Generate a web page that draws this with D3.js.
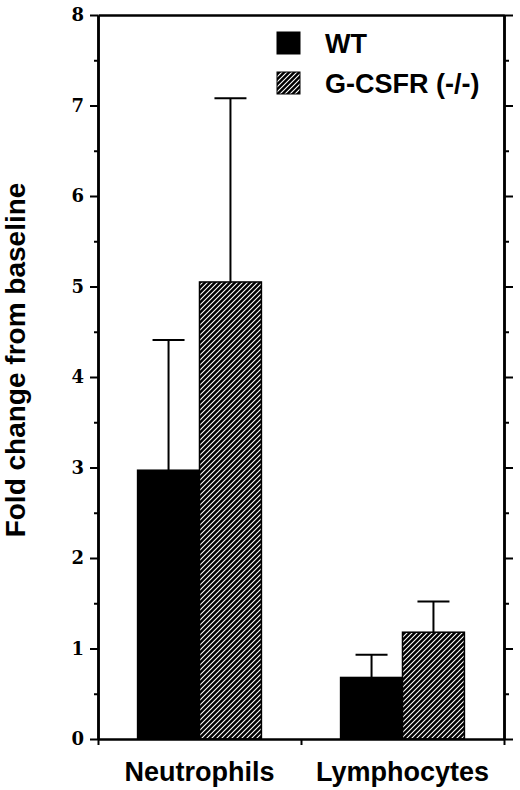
<!DOCTYPE html>
<html lang="en">
<head>
    <meta charset="UTF-8">
    <title>Fold change from baseline</title>
    <script src="https://d3js.org/d3.v7.min.js"></script>
    <style>
        body {
            margin: 0;
            background: #fff;
        }
        svg {
            display: block;
        }
        .label {
            font-family: "Liberation Sans", Arial, sans-serif;
            font-weight: bold;
            font-size: 27px;
        }
        .title {
            font-size: 28px;
        }
    </style>
</head>
<body>
    <script>
        // values
        const categories = ["Neutrophils", "Lymphocytes"];
        const series = ["WT", "G-CSFR (-/-)"];
        const wtMeans = [2.97, 0.68];
        const wtErrors = [1.44, 0.25];
        const koMeans = [5.05, 1.18];
        const koErrors = [2.03, 0.34];
        const yTicks = [0, 1, 2, 3, 4, 5, 6, 7, 8];
        const yMinorTicks = [0.5, 1.5, 2.5, 3.5, 4.5, 5.5, 6.5, 7.5];

        const width = 520;
        const height = 790;
        const plotLeft = 98, plotRight = 504, plotTop = 15, plotBottom = 739;

        let svg = d3.select("body")
            .append("svg")
            .attr("width", width)
            .attr("height", height);

        let defs = svg.append("defs");
        let hatch = defs.append("pattern")
            .attr("id", "hatch")
            .attr("patternUnits", "userSpaceOnUse")
            .attr("width", 5)
            .attr("height", 5);
        hatch.append("rect")
            .attr("width", 5)
            .attr("height", 5)
            .attr("fill", "#000");
        hatch.append("path")
            .attr("d", "M-1,1 l2,-2 M0,5 l5,-5 M4,6 l2,-2")
            .attr("stroke", "#fff")
            .attr("stroke-width", 1.1);

        const y = d3.scaleLinear()
            .domain([0, 8])
            .range([plotBottom, plotTop]);

        const x0 = d3.scaleBand()
            .domain(categories)
            .range([plotLeft, plotRight])
            .paddingInner(0.39)
            .paddingOuter(0.195);

        const x1 = d3.scaleBand()
            .domain(series)
            .range([0, x0.bandwidth()]);

        // boundaries between groups for bottom ticks
        const xEdge = d3.scaleLinear()
            .domain([0, categories.length])
            .range([plotLeft, plotRight]);

        const fills = {"WT": "#000", "G-CSFR (-/-)": "url(#hatch)"};

        const rows = [];
        categories.forEach((c, i) => {
            rows.push({cat: c, s: series[0], v: wtMeans[i], e: wtErrors[i]});
            rows.push({cat: c, s: series[1], v: koMeans[i], e: koErrors[i]});
        });

        // error bars (upper only)
        let gErr = svg.append("g")
            .attr("stroke", "#000")
            .attr("stroke-width", 2);
        gErr.selectAll("line.stem")
            .data(rows)
            .enter()
            .append("line")
            .attr("class", "stem")
            .attr("x1", d => x0(d.cat) + x1(d.s) + x1.bandwidth() / 2)
            .attr("x2", d => x0(d.cat) + x1(d.s) + x1.bandwidth() / 2)
            .attr("y1", d => y(d.v))
            .attr("y2", d => y(d.v + d.e));
        gErr.selectAll("line.cap")
            .data(rows)
            .enter()
            .append("line")
            .attr("class", "cap")
            .attr("x1", d => x0(d.cat) + x1(d.s) + x1.bandwidth() / 2 - 16)
            .attr("x2", d => x0(d.cat) + x1(d.s) + x1.bandwidth() / 2 + 16)
            .attr("y1", d => y(d.v + d.e))
            .attr("y2", d => y(d.v + d.e));

        // bars
        svg.append("g")
            .selectAll("rect")
            .data(rows)
            .enter()
            .append("rect")
            .attr("x", d => x0(d.cat) + x1(d.s))
            .attr("y", d => y(d.v))
            .attr("width", x1.bandwidth())
            .attr("height", d => y(0) - y(d.v))
            .attr("fill", d => fills[d.s])
            .attr("stroke", "#000")
            .attr("stroke-width", 1.5);

        // axes
        function styleAxis(g) {
            g.select(".domain").attr("stroke-width", 2.5);
            g.selectAll(".tick line").attr("stroke-width", 2);
        }

        svg.append("g")
            .attr("transform", `translate(${plotLeft},0)`)
            .call(d3.axisLeft(y).tickValues(yTicks).tickSize(8).tickPadding(6).tickSizeOuter(0))
            .call(styleAxis)
            .call(g => g.selectAll(".tick text")
                .attr("fill", "#000")
                .style("font-family", "'DejaVu Serif', serif")
                .style("font-weight", "bold")
                .style("font-size", "18px"));
        svg.append("g")
            .attr("transform", `translate(${plotLeft},0)`)
            .call(d3.axisLeft(y).tickValues(yMinorTicks).tickSize(4).tickFormat("").tickSizeOuter(0))
            .call(styleAxis);

        svg.append("g")
            .attr("transform", `translate(${plotRight},0)`)
            .call(d3.axisRight(y).tickValues(yTicks).tickSize(9).tickFormat("").tickSizeOuter(0))
            .call(styleAxis);
        svg.append("g")
            .attr("transform", `translate(${plotRight},0)`)
            .call(d3.axisRight(y).tickValues(yMinorTicks).tickSize(5).tickFormat("").tickSizeOuter(0))
            .call(styleAxis);

        svg.append("g")
            .attr("transform", `translate(0,${plotBottom})`)
            .call(d3.axisBottom(xEdge).ticks(categories.length).tickSize(6).tickFormat("").tickSizeOuter(0))
            .call(styleAxis);

        svg.append("g")
            .attr("transform", `translate(0,${plotTop})`)
            .call(d3.axisTop(xEdge).tickValues([]).tickSizeOuter(0))
            .call(styleAxis);

        // category labels
        svg.selectAll("text.cat")
            .data(categories)
            .enter()
            .append("text")
            .attr("class", "label cat")
            .attr("x", d => x0(d) + x0.bandwidth() / 2)
            .attr("y", 781)
            .attr("text-anchor", "middle")
            .text(d => d);

        // y title
        svg.append("text")
            .attr("class", "label title")
            .attr("transform", `translate(25,${(plotTop + plotBottom) / 2 - 17}) rotate(-90)`)
            .attr("text-anchor", "middle")
            .text("Fold change from baseline");

        // legend
        let legend = svg.append("g")
            .selectAll("g")
            .data(series)
            .enter()
            .append("g")
            .attr("transform", (d, i) => `translate(277,${32 + i * 40})`);
        legend.append("rect")
            .attr("width", 23)
            .attr("height", 22)
            .attr("fill", d => fills[d])
            .attr("stroke", "#000")
            .attr("stroke-width", 1);
        legend.append("text")
            .attr("class", "label")
            .attr("x", 48)
            .attr("y", 21)
            .text(d => d);
    </script>
</body>
</html>
